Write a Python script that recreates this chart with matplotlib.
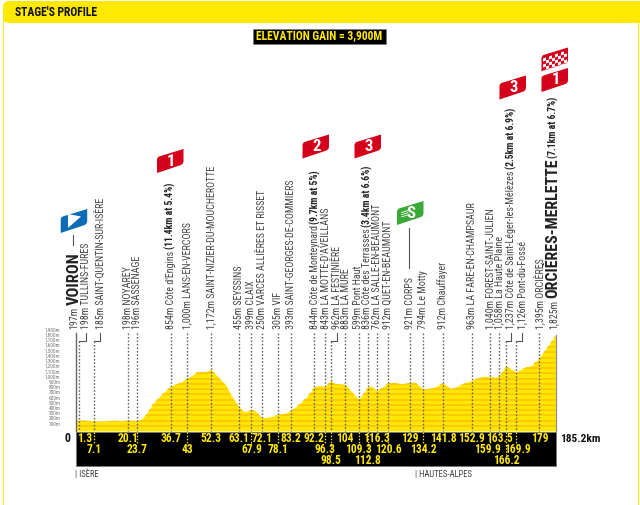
import matplotlib
matplotlib.use("Agg")
import matplotlib.pyplot as plt
from matplotlib.patches import Polygon, Rectangle, PathPatch, FancyBboxPatch
from matplotlib.path import Path

# profile line
profile_km = [0, 1.3, 3, 7.1, 12, 15, 17, 20.1, 22, 23.7, 25, 27, 30, 33, 36.7, 40, 43, 47, 50, 52.3,
              55, 58, 60, 63.1, 65, 66, 67.9, 69, 72.1, 75, 78.1, 81, 83.2, 86, 89, 92.2, 94.5, 96.3,
              98.5, 100, 104, 106, 109.3, 112.8, 114, 116.3, 120.6, 123, 126, 129, 131, 134.2, 137,
              141.8, 145, 148, 152.9, 157, 159.9, 162, 163.5, 166.2, 169.9, 173, 176, 179, 182, 185.2]
profile_m = [197, 198, 205, 185, 185, 200, 190, 198, 200, 196, 210, 305, 530, 686, 854, 914, 1000, 1124, 1125, 1172,
             1030, 876, 686, 455, 368, 380, 399, 395, 250, 270, 305, 340, 393, 500, 640, 844, 870, 843,
             962, 900, 883, 780, 599, 836, 860, 762, 912, 920, 890, 921, 930, 794, 810,
             912, 800, 870, 963, 1040, 1040, 1020, 1058, 1237, 1126, 1200, 1250, 1395, 1600, 1825]

# waypoints: km, height label, name, bold part
way_km = [1.3, 7.1, 20.1, 23.7, 36.7, 43, 52.3, 63.1, 67.9, 72.1, 78.1, 83.2, 92.2, 96.3, 98.5, 104,
          109.3, 112.8, 116.3, 120.6, 129, 134.2, 141.8, 152.9, 159.9, 163.5, 166.2, 169.9, 179]
way_text = ["198m TULLINS-FURES", "185m SAINT-QUENTIN-SUR-ISÈRE", "198m NOYAREY", "196m SASSENAGE",
            "854m Côte d'Engins", "1,000m LANS-EN-VERCORS", "1,172m SAINT-NIZIER-DU-MOUCHEROTTE",
            "455m SEYSSINS", "399m CLAIX", "250m VARCES ALLIÈRES ET RISSET", "305m VIF",
            "393m SAINT-GEORGES-DE-COMMIERS", "844m Côte de Monteynard", "843m LA MOTTE-D'AVEILLANS",
            "962m LA FESTINIÈRE", "883m LA MURE", "599m Pont Haut", "836m Côte des Terrasses",
            "762m LA SALLE-EN-BEAUMONT", "912m QUET-EN-BEAUMONT", "921m CORPS", "794m Le Motty",
            "912m Chauffayer", "963m LA FARE-EN-CHAMPSAUR", "1,040m FOREST-SAINT-JULIEN",
            "1,058m La Haute Plaine", "1,237m Côte de Saint-Léger-les-Mélèzes", "1,126m Pont-du-Fossé",
            "1,395m ORCIÈRES"]
way_bold = {"854m Côte d'Engins": "(11.4km at 5.4%)",
            "844m Côte de Monteynard": "(9.7km at 5%)",
            "836m Côte des Terrasses": "(3.4km at 6.6%)",
            "1,237m Côte de Saint-Léger-les-Mélèzes": "(2.5km at 6.9%)"}
km_row = [0, 1, 0, 1, 0, 1, 0, 0, 1, 0, 1, 0, 0, 1, 2, 0, 1, 2, 0, 1, 0, 1, 0, 0, 1, 0, 2, 1, 0]
km_text = ["1.3", "7.1", "20.1", "23.7", "36.7", "43", "52.3", "63.1", "67.9", "72.1", "78.1", "83.2", "92.2",
           "96.3", "98.5", "104", "109.3", "112.8", "116.3", "120.6", "129", "134.2", "141.8", "152.9",
           "159.9", "163.5", "166.2", "169.9", "179"]
height_ticks = list(range(100, 2000, 100))
total_km = 185.2

# layout in pixels
W, H = 640, 505
X0, X1 = 75.5, 555.5
BASE = 431
PX_PER_M = 0.0525
PX_PER_KM = (X1 - X0) / total_km
NARROW = ["Roboto Condensed", "Barlow Condensed", "Archivo Narrow", "Liberation Sans"]
YELLOW = "#ffe900"
RED = "#d5001c"
TXT = "#444444"
label_shift = {1.3: 7, 7.1: 6, 98.5: 6, 166.2: 5, 169.9: 6}
nudge = {104: 1.2, 92.2: 0.5, 96.3: 0.8, 109.3: -1, 112.8: -1}
km_nudge = {1.3: 5.5, 159.9: -2, 169.9: 2}
row_y = [438.5, 449.5, 461]


def kx(km):
    return X0 + km * PX_PER_KM


fig = plt.figure(figsize=(W / 100, H / 100), dpi=100)
bg = fig.add_axes([0, 0, 1, 1])
bg.set_xlim(0, W)
bg.set_ylim(H, 0)
bg.axis("off")

# frame and title bar
bg.add_patch(Rectangle((3, 15), 1.4, H, color=YELLOW, lw=0))
bg.add_patch(Rectangle((638, 15), 1.4, H, color=YELLOW, lw=0))
bg.add_patch(FancyBboxPatch((9, 7), 640, 10, boxstyle="round,pad=6,rounding_size=6", color=YELLOW, lw=0))
bg.text(15, 12.5, "STAGE'S PROFILE", family=NARROW, weight="bold", fontsize=8.4, va="center", color="#111111")

bg.add_patch(Rectangle((253, 28.5), 133, 15, facecolor="black", edgecolor="#777777", lw=0.5))
bg.text(319.5, 36, "ELEVATION GAIN = 3,900M", family=NARROW, weight="bold", fontsize=8.4,
        color=YELLOW, ha="center", va="center")

# profile
ax = fig.add_axes([X0 / W, (H - BASE) / H, (X1 - X0) / W, 1900 * PX_PER_M / H])
ax.set_xlim(0, total_km)
ax.set_ylim(0, 1900)
ax.axis("off")
ax.patch.set_alpha(0)
area = ax.fill_between(profile_km, profile_m, 0, color="#ffe600", lw=0)
stripes = ax.hlines(height_ticks, 0, total_km, color="#fbc900", lw=1.3)
stripes.set_clip_path(area.get_paths()[0], transform=ax.transData)

over = fig.add_axes([0, 0, 1, 1])
over.set_xlim(0, W)
over.set_ylim(H, 0)
over.axis("off")
over.patch.set_alpha(0)

for h in height_ticks:
    over.text(60.5, BASE - h * PX_PER_M - 1.5, f"{h:,}m", fontsize=3.9, color="#777777",
              family=NARROW, ha="right", va="center")

# black km strip
over.add_patch(Rectangle((X0, BASE + 0.5), X1 - X0, 34.5, facecolor="black", edgecolor="#777777", lw=0.6))
over.plot([X0, X0], [333, BASE], color="#666666", lw=1)
over.plot([X1, X1], [335, BASE], color="#888888", lw=0.8)
over.text(70, 438.5, "0", fontsize=8.5, weight="bold", family=NARROW, ha="right", va="center", color="#111111")
over.text(560, 438.5, f"{total_km}km", fontsize=8.2, weight="bold", family=NARROW, va="center", color="#111111")
over.text(75, 474, "| ISÈRE", fontsize=6.2, family=NARROW, va="center", color=TXT)
over.text(415, 474, "| HAUTES-ALPES", fontsize=6.2, family=NARROW, va="center", color=TXT)

renderer = fig.canvas.get_renderer()


def rot_parts(x, y, parts):
    # rotated text made of pieces with different weights, stacked upwards
    for s, size, weight in parts:
        t = over.text(x, y, s, rotation=90, fontsize=size, weight=weight, family=NARROW,
                      ha="center", va="bottom", color="#222222" if weight == "bold" else TXT)
        y -= t.get_window_extent(renderer).height + 1.5


for km, txt, row, lab in zip(way_km, way_text, km_row, km_text):
    x = kx(km)
    lx = x + label_shift.get(km, 0)
    parts = [(txt, 7.2, "normal")]
    if txt in way_bold:
        parts.append((way_bold[txt], 6.9, "bold"))
    rot_parts(lx + nudge.get(km, 0), 329, parts)
    if km in label_shift:
        over.plot([lx, lx, x], [333, 341, 341], color="#555555", lw=0.8)
        over.plot([x, x], [341, BASE], color="#666666", lw=1, ls=(0, (1.2, 1.3)))
    else:
        over.plot([x, x], [333, BASE], color="#666666", lw=1, ls=(0, (1.2, 1.3)))
    if row > 0:
        over.plot([x, x], [BASE + 1, row_y[row] - 6], color=YELLOW, lw=0.9, ls=(0, (1.2, 1.3)))
    over.text(x + km_nudge.get(km, 0), row_y[row], lab, color=YELLOW, fontsize=8.3, weight="bold", family=NARROW,
              ha="center", va="center")

# start and finish labels
rot_parts(74, 329, [("197m", 7.2, "normal"), ("VOIRON", 11.8, "bold")])
over.plot([73, 73], [235, 245], color="#555555", lw=0.8)
rot_parts(553, 329, [("1,825m", 7.2, "normal"), ("ORCIÈRES-MERLETTE", 11.5, "bold"), ("(7.1km at 6.7%)", 6.9, "bold")])
over.plot([409, 409], [228, 268], color="#555555", lw=0.8)


def flag_path(x, y):
    # skewed flag with rounded corners, x y is the lower left corner
    w, h, sk = 26.5, 15.5, 9
    verts = [(x, y), (x, y - h + 2), (x, y - h), (x + 2, y - h - 1), (x + w, y - h - sk + 0.5), (x + w, y - 3 - sk),
             (x + w, y - sk + 0.5), (x + w - 4, y - sk + 1.5), (x, y)]
    codes = [Path.MOVETO, Path.LINETO, Path.CURVE3, Path.CURVE3, Path.LINETO, Path.LINETO,
             Path.CURVE3, Path.CURVE3, Path.CLOSEPOLY]
    return Path(verts, codes)


def flag(x, y, color, label=None):
    over.add_patch(PathPatch(flag_path(x, y), facecolor=color, edgecolor="none"))
    if label:
        over.text(x + 14, y - 12, label, color="white", weight="bold", family=NARROW, fontsize=12,
                  ha="center", va="center")


flag(157, 173, RED, "1")
flag(302.5, 158.5, RED, "2")
flag(354.5, 158.5, RED, "3")
flag(499.5, 99.5, RED, "3")
flag(541.5, 92, RED, "1")

# sprint flag
flag(397, 225, "#3aa935", "S")
for i in range(3):
    over.plot([401.5, 408], [212.5 + i * 2.2, 210.5 + i * 2.2], color="white", lw=0.6)

# start flag
flag(60.7, 233, "#0a6db5")
over.add_patch(Polygon([(68, 214), (68, 228), (81, 216.5)], color="white", lw=0))

# finish flag
fin = flag_path(541.5, 71.5)
flag(541.5, 71.5, RED)
clip_patch = PathPatch(fin, transform=over.transData, facecolor="none", edgecolor="none")
over.add_patch(clip_patch)
for c in range(8):
    for r in range(5):
        if (c + r) % 2 == 0:
            x = 543 + c * 3
            y = 58.5 + r * 3 - c * 3 * 9 / 26.5
            sq = Polygon([(x, y), (x + 3, y - 1), (x + 3, y + 2), (x, y + 3)], color="white", lw=0)
            over.add_patch(sq)
            sq.set_clip_path(clip_patch)

fig.savefig("out.png", dpi=100)
